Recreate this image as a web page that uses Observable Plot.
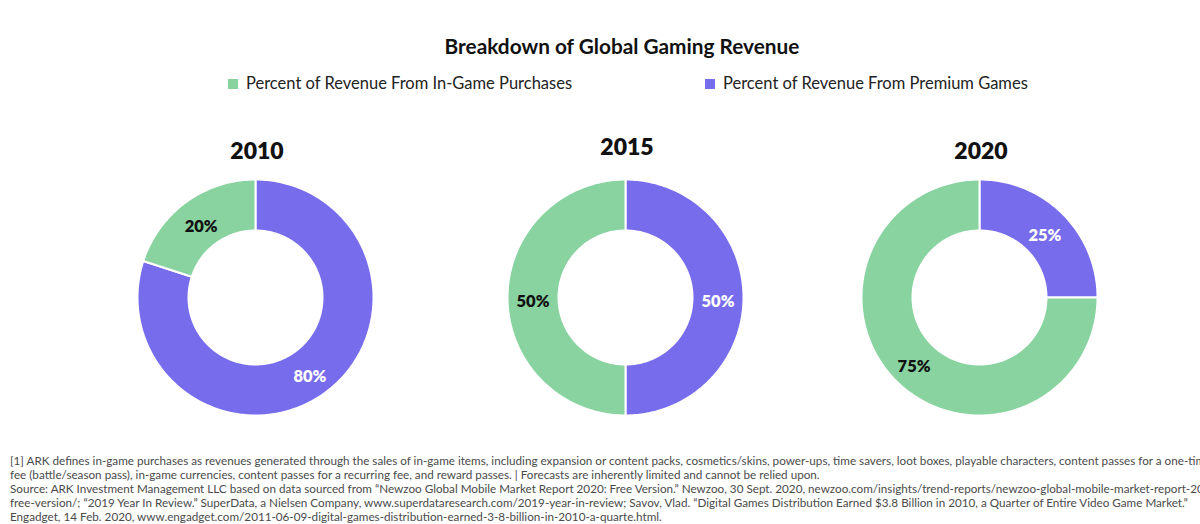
<!DOCTYPE html>
<html><head><meta charset="utf-8">
<script src="https://cdn.jsdelivr.net/npm/d3@7"></script>
<script src="https://cdn.jsdelivr.net/npm/@observablehq/plot@0.6"></script>
<style>
body{margin:0;background:#fff;font-family:Lato,"Open Sans",sans-serif;}
#root{position:relative;width:1200px;height:524px;overflow:hidden;background:#fff;}
.title{position:absolute;left:0;width:1244px;top:33px;text-align:center;font-weight:700;font-size:20.8px;color:#111;}
.leg{position:absolute;top:73px;font-size:16.5px;color:#222;white-space:nowrap;}
.leg span.sw{display:inline-block;width:10px;height:10px;margin-right:8px;vertical-align:0px;}
.year{position:absolute;width:200px;text-align:center;font-weight:800;font-size:23px;color:#111;}
.donut{position:absolute;}
.notes{position:absolute;left:10px;top:453px;font-size:11.7px;line-height:14px;color:#4a4a4a;white-space:nowrap;}
</style></head><body><div id="root"></div><script>
// ---- data ----
const title = "Breakdown of Global Gaming Revenue";
const years = ["2010", "2015", "2020"];
const seriesNames = ["Percent of Revenue From In-Game Purchases", "Percent of Revenue From Premium Games"];
const inGamePct = [20, 50, 75];
const premiumPct = [80, 50, 25];
const seriesColors = ["#88d3a0", "#776cec"];
const labelColors = ["#111111", "#ffffff"];
const notes = [
  "[1] ARK defines in-game purchases as revenues generated through the sales of in-game items, including expansion or content packs, cosmetics/skins, power-ups, time savers, loot boxes, playable characters, content passes for a one-time",
  "fee (battle/season pass), in-game currencies, content passes for a recurring fee, and reward passes. |  Forecasts are inherently limited and cannot be relied upon.",
  "Source: ARK Investment Management LLC based on data sourced from \u201cNewzoo Global Mobile Market Report 2020: Free Version.\u201d Newzoo, 30 Sept. 2020, newzoo.com/insights/trend-reports/newzoo-global-mobile-market-report-2020-",
  "free-version/; \u201c2019 Year In Review.\u201d SuperData, a Nielsen Company, www.superdataresearch.com/2019-year-in-review; Savov, Vlad. \u201cDigital Games Distribution Earned $3.8 Billion in 2010, a Quarter of Entire Video Game Market.\u201d",
  "Engadget, 14 Feb. 2020, www.engadget.com/2011-06-09-digital-games-distribution-earned-3-8-billion-in-2010-a-quarte.html."
];

// ---- layout (pixels) ----
const centersX = [255, 625, 979];
const yearTops = [136, 132, 136];
const centerY = 297;
const outerR = 118, innerR = 67, box = 240;

const root = document.getElementById("root");
const t = document.createElement("div"); t.className = "title"; t.textContent = title; root.appendChild(t);

const legX = [228, 705];
seriesNames.forEach((s, i) => {
  const d = document.createElement("div"); d.className = "leg"; d.style.left = legX[i] + "px";
  d.innerHTML = `<span class="sw" style="background:${seriesColors[i]}"></span>`;
  d.appendChild(document.createTextNode(s));
  root.appendChild(d);
});

const inner = innerR / outerR;
const lim = (box / 2) / outerR;

years.forEach((yr, k) => {
  // clockwise from 12 o'clock: premium first, then in-game
  const slices = [
    {series: seriesNames[1], value: premiumPct[k], li: 1},
    {series: seriesNames[0], value: inGamePct[k], li: 0}
  ];
  const arcs = d3.pie().sort(null).value(d => d.value)(slices);
  const pts = [];
  const labels = [];
  arcs.forEach((a, j) => {
    const n = Math.max(8, Math.ceil((a.endAngle - a.startAngle) * 60));
    const key = yr + "-" + j;
    const ring = [];
    for (let i = 0; i <= n; i++) {
      const th = a.startAngle + (a.endAngle - a.startAngle) * i / n;
      ring.push({key, series: a.data.series, x: Math.sin(th), y: Math.cos(th)});
    }
    for (let i = n; i >= 0; i--) {
      const th = a.startAngle + (a.endAngle - a.startAngle) * i / n;
      ring.push({key, series: a.data.series, x: inner * Math.sin(th), y: inner * Math.cos(th)});
    }
    ring.push({...ring[0]});
    pts.push(...ring);
    const mid = (a.startAngle + a.endAngle) / 2, rr = (1 + inner) / 2;
    labels.push({x: rr * Math.sin(mid), y: rr * Math.cos(mid), text: a.data.value + "%", li: a.data.li});
  });

  const plot = Plot.plot({
    width: box, height: box, margin: 0,
    x: {domain: [-lim, lim], axis: null},
    y: {domain: [-lim, lim], axis: null},
    color: {domain: seriesNames, range: seriesColors},
    style: {background: "transparent", overflow: "visible"},
    marks: [
      Plot.line(pts, {x: "x", y: "y", z: "key", fill: "series", stroke: "#ffffff", strokeWidth: 2, curve: "linear"}),
      Plot.text(labels.filter(d => d.li === 0), {x: "x", y: "y", dy: 4, text: "text", fill: labelColors[0], fontSize: 16.5, fontWeight: 800, fontFamily: "Lato"}),
      Plot.text(labels.filter(d => d.li === 1), {x: "x", y: "y", dy: 4, text: "text", fill: labelColors[1], fontSize: 16.5, fontWeight: 800, fontFamily: "Lato"})
    ]
  });
  const wrap = document.createElement("div"); wrap.className = "donut";
  wrap.style.left = (centersX[k] - box / 2) + "px"; wrap.style.top = (centerY - box / 2) + "px";
  wrap.appendChild(plot); root.appendChild(wrap);

  const yl = document.createElement("div"); yl.className = "year"; yl.textContent = yr;
  yl.style.left = (centersX[k] - 100 + 2) + "px"; yl.style.top = yearTops[k] + "px";
  root.appendChild(yl);
});

const nb = document.createElement("div"); nb.className = "notes";
notes.forEach(l => { const p = document.createElement("div"); p.textContent = l; nb.appendChild(p); });
root.appendChild(nb);
</script></body></html>
